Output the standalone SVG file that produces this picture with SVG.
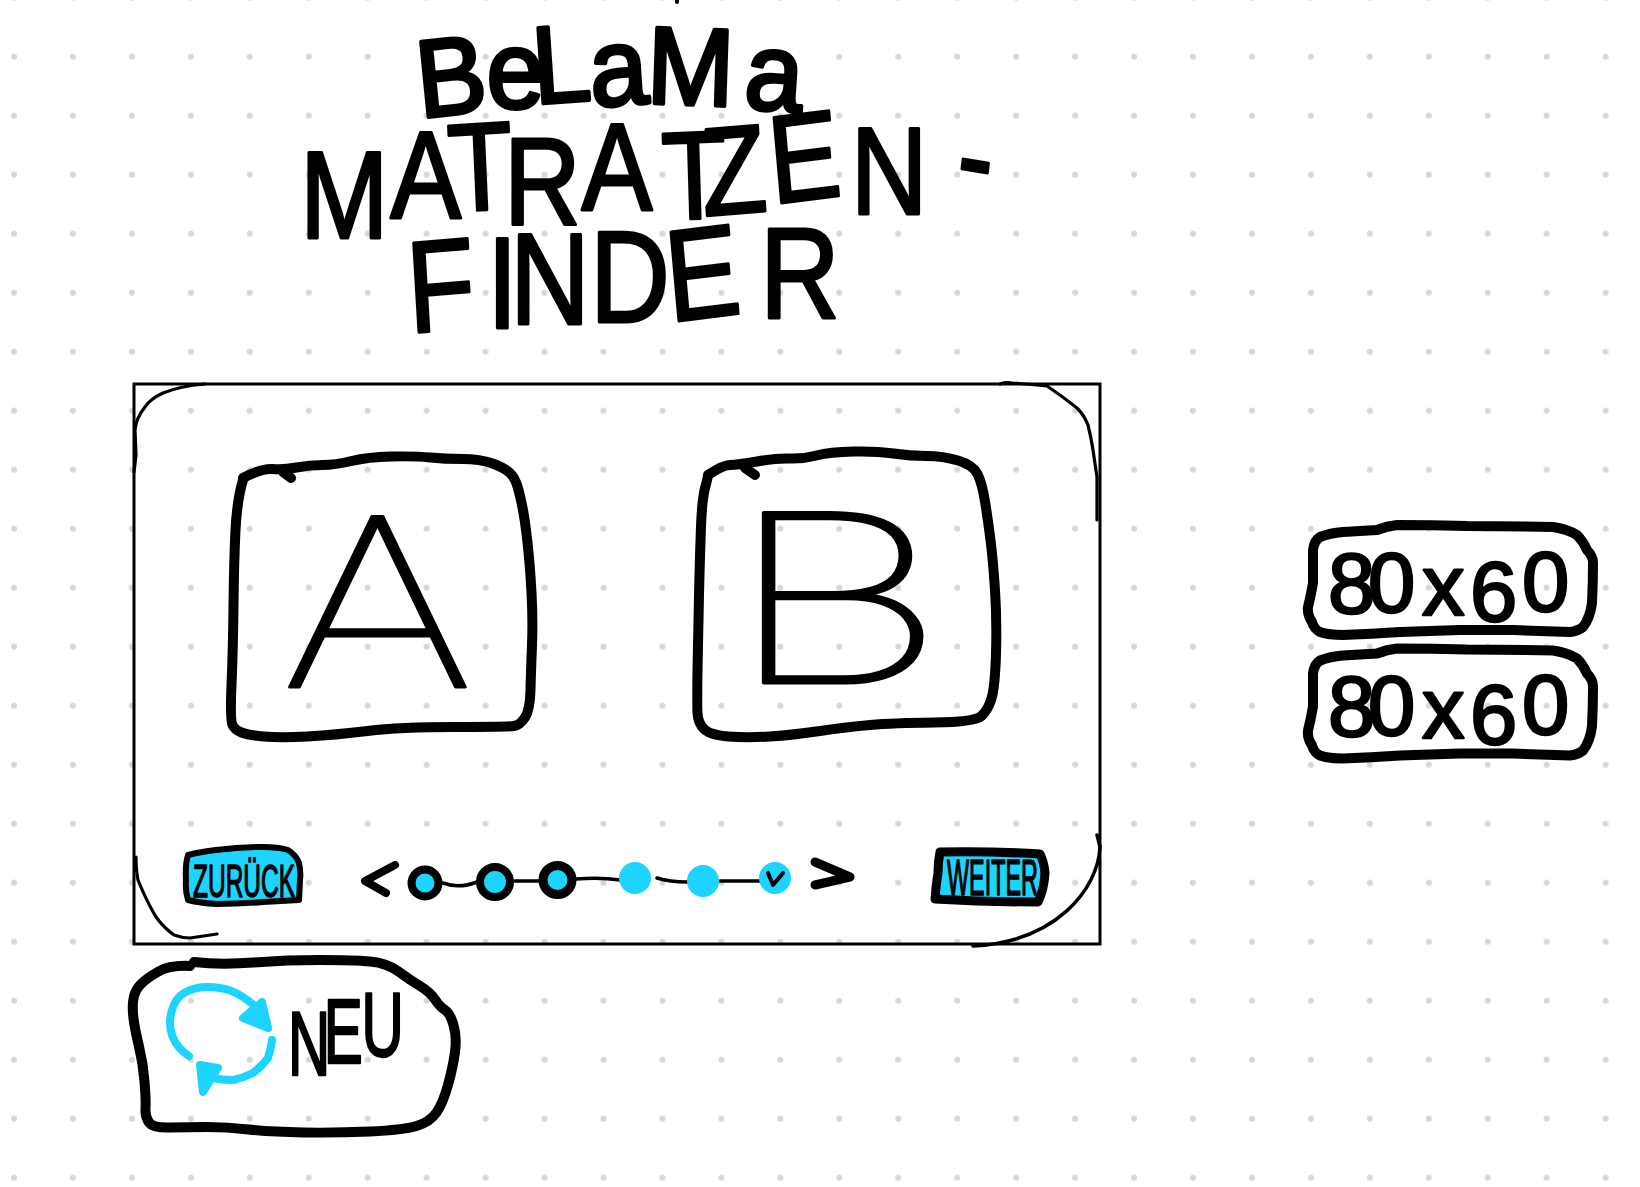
<svg xmlns="http://www.w3.org/2000/svg" xmlns:xlink="http://www.w3.org/1999/xlink" width="1640" height="1187" viewBox="0 0 1640 1187">
<style>
.ink{fill:none;stroke:#000;stroke-linecap:round;stroke-linejoin:round}
.box{stroke-width:10}
.thin{stroke-width:3.2}
.btn{fill:#1dd3ff;stroke:#000;stroke-linejoin:round}
.cy{fill:#1dd3ff}
.cyl{fill:none;stroke:#1dd3ff;stroke-width:8;stroke-linecap:round;stroke-linejoin:round}
.hand{font-family:"Liberation Sans",Arial,sans-serif;fill:#000;stroke:#000;stroke-linejoin:round}
.big{font-family:Roboto,"Liberation Sans",sans-serif;font-weight:100;fill:#000;stroke:#000;stroke-width:3;stroke-linejoin:round;font-size:240px}
</style>
<defs>
<pattern id="grid" x="14" y="-2.3" width="58.95" height="59" patternUnits="userSpaceOnUse"><circle cx="0.0" cy="0.0" r="3" fill="#d6d6d6"/><circle cx="58.95" cy="0" r="3" fill="#d6d6d6"/><circle cx="0" cy="59" r="3" fill="#d6d6d6"/><circle cx="58.95" cy="59" r="3" fill="#d6d6d6"/></pattern>
<path id="sizebox" d="M1377,530 Q1387,526 1397,525 Q1432,525 1467,526 Q1510,526 1553,527 Q1567,529 1577,535 Q1583,541 1587,550 Q1593,556 1593,563 Q1593,583 1592,603 Q1590,618 1583,627 Q1578,631 1570,632 Q1541,631 1513,630 Q1487,630 1460,630 Q1430,631 1400,632 Q1371,634 1343,635 Q1329,635 1320,632 Q1314,629 1312,622 Q1307,614 1308,607 Q1311,595 1313,583 Q1313,566 1313,550 Q1314,541 1320,537 Q1330,533 1343,532 Q1360,531 1377,530 Z"/>
</defs>
<rect width="1640" height="1187" fill="#fff"/>
<rect id="dot-grid" width="1640" height="1187" fill="url(#grid)"/>

<g id="title">
<path class="ink" d="M677,0v2" stroke-width="4"/>
<text class="hand" font-size="110" stroke-width="4" transform="scale(.95 1)" x="442 512 563 623 680 782" y="118 108 104 107 103 108" rotate="-6 0 -4 -4 2 4">BeLaMa</text>
<text class="hand" font-size="125" stroke-width="3" transform="scale(.85 1)" x="353 459 529 593 684 780 828 909 1001 1122" y="238 218 212 225 210 220 216 204 214 196" rotate="0 0 -3 0 0 -2 -4 -6 0 8">MATRATZEN-</text>
<text class="hand" font-size="130" stroke-width="3" transform="scale(.85 1)" x="482 573 600 694 788 894" y="333 328 324 322 322 318" rotate="-4 0 0 0 -6 0">FINDER</text>
</g>

<g id="frame">
<rect x="134" y="384" width="966" height="560" fill="none" stroke="#000" stroke-width="3"/>
<path class="ink thin" d="M205,384 Q180,386 163,393 Q150,399 145,407 Q136,418 135,430 L136,455 L134,472"/>
<path class="ink thin" d="M1000,384 Q1006,382 1012,383 Q1030,384 1047,386 Q1062,396 1077,408 Q1084,415 1088,425 Q1091,437 1093,450 Q1095,464 1097,477 L1097,520"/>
<path class="ink thin" d="M136,857 C136,868 137,875 138,880 Q146,900 156,917 Q164,928 174,935 Q182,938 190,938 L217,934"/>
<path class="ink" stroke-width="3.5" d="M1097,835 L1100,847 C1098,890 1055,942 973,946"/>
</g>

<g id="option-a">
<path class="ink box" d="M243,478 Q262,468 272.5,469 Q283,470 296.5,467.5 Q310,465 322.5,465 Q335,465 351.5,461 Q368,457 391.5,456.5 Q415,456 430,457.5 Q445,459 462.5,459 Q480,459 492.5,463.5 Q505,468 510,473 Q515,478 517.5,486.5 Q520,495 522.5,507.5 Q525,520 527.5,542.5 Q530,565 531.5,592.5 Q533,620 532,645 Q531,670 530.5,690 Q530,710 525,717.5 Q520,725 514,726 Q508,727 454,727 Q400,727 367.5,731 Q335,735 307.5,736.5 Q280,738 264,736.5 Q248,735 241.5,732.5 Q235,730 232.5,725 Q230,720 231.5,685 Q233,650 233.5,605 Q234,560 235.5,530 Q237,500 243,480"/>
<path class="ink box" d="M283,472 L291,478"/>
<text class="big" x="285" y="687" textLength="185" lengthAdjust="spacingAndGlyphs">A</text>
</g>

<g id="option-b">
<path class="ink box" d="M708,475 Q723,465 730,465 Q737,465 757,461.5 Q777,458 790,458.5 Q803,459 816.5,455.5 Q830,452 853.5,451.5 Q877,451 893.5,453.5 Q910,456 926.5,456 Q943,456 958,460.5 Q973,465 977.5,474 Q982,483 985,501.5 Q988,520 990.5,540 Q993,560 995,590 Q997,620 996,653.5 Q995,687 991.5,698.5 Q988,710 981.5,716 Q975,722 934,722.5 Q893,723 870,725 Q847,727 820,731 Q793,735 770,736.5 Q747,738 728.5,736.5 Q710,735 704,729 Q698,723 697.5,713 Q697,703 697.5,670 Q698,637 699,595 Q700,553 701,526.5 Q702,500 705,488 Q708,477 708,475"/>
<path class="ink box" d="M745,468 L755,475"/>
<text class="big" x="730" y="683" textLength="210" lengthAdjust="spacingAndGlyphs">B</text>
</g>

<g id="size-1">
<use xlink:href="#sizebox" href="#sizebox" class="ink box"/>
<text class="hand" font-size="85" stroke-width="2.5" x="1328 1368 1422 1470 1522" y="613 612 615 621 611">80x60</text>
</g>
<g id="size-2">
<use xlink:href="#sizebox" href="#sizebox" class="ink box" transform="translate(0 123.5)"/>
<text class="hand" font-size="85" stroke-width="2.5" x="1328 1368 1422 1470 1522" y="736 735 738 744 734">80x60</text>
</g>

<g id="connectors">
<path class="ink" stroke-width="3.5" d="M443,883 Q459,889 477,882"/>
<path class="ink" stroke-width="3.5" d="M515,881 L539,881"/>
<path class="ink" stroke-width="3.5" d="M576,879 Q600,877 620,880"/>
<path class="ink" stroke-width="3.5" d="M657,878 Q670,882 687,882"/>
<path class="ink" stroke-width="3.5" d="M720,881 L760,881"/>
</g>

<g id="back">
<path class="btn" stroke-width="6" d="M188,855 Q200,852 216,850 Q240,847 263,847 Q278,847 288,850 Q296,855 299,863 Q301,872 300,880 L299,900 Q280,901 263,902 Q240,904 216,904 Q200,903 188,900 Q185,890 186,880 Q185,865 188,855 Z"/>
<text class="hand" font-size="46" stroke-width="1.5" x="193" y="897" textLength="102" lengthAdjust="spacingAndGlyphs">ZURÜCK</text>
</g>
<g id="prev"><path class="ink" stroke-width="8" d="M395,865 L365,881 L386,893"/></g>
<g id="step-1"><circle cx="425" cy="883" r="13.5" class="cy" stroke="#000" stroke-width="8"/></g>
<g id="step-2"><circle cx="495" cy="882" r="15" class="cy" stroke="#000" stroke-width="8"/></g>
<g id="step-3"><circle cx="557.5" cy="880" r="14.5" class="cy" stroke="#000" stroke-width="9"/></g>
<g id="step-4"><circle cx="635" cy="878" r="16" class="cy"/></g>
<g id="step-5"><circle cx="703" cy="881" r="16" class="cy"/></g>
<g id="step-6"><circle cx="775" cy="878" r="16" class="cy"/><path class="ink" stroke-width="4" d="M768,873 L773,885 L783,873"/></g>
<g id="next"><path class="ink" stroke-width="9" d="M815,862 L850,877 L815,885"/></g>
<g id="forward">
<path class="btn" stroke-width="9" d="M940,852 Q990,851 1040,854 Q1044,862 1045,873 Q1044,890 1038,902 Q985,902 935,899 Q936,885 938,873 Q938,862 940,852 Z"/>
<text class="hand" font-size="50" stroke-width="1.5" x="947" y="895" textLength="91" lengthAdjust="spacingAndGlyphs">WEITER</text>
</g>

<g id="restart">
<path class="ink box" d="M190,966 Q170,965 158.5,971.5 Q147,978 141,984 Q135,990 133.5,998.5 Q132,1007 133.5,1018.5 Q135,1030 139,1046.5 Q143,1063 144.5,1081.5 Q146,1100 145.5,1108.5 Q145,1117 149,1122.5 Q153,1128 170,1127.5 Q187,1127 207,1127 Q227,1127 248.5,1129.5 Q270,1132 303.5,1132.5 Q337,1133 370,1131.5 Q403,1130 416.5,1126 Q430,1122 436.5,1112.5 Q443,1103 448,1085 Q453,1067 455,1052 Q457,1037 453.5,1025 Q450,1013 445,1010 Q440,1007 435,999.5 Q430,992 420,986 Q410,980 398.5,971.5 Q387,963 370,961.5 Q353,960 320,960 Q287,960 253.5,962.5 Q220,965 194,962"/>
<path class="cyl" d="M189,1056 Q177,1048 172.5,1036.5 Q168,1025 171.5,1011.5 Q175,998 185,992.5 Q195,987 207.5,987 Q220,987 231.5,991 Q243,995 263,1013"/>
<path class="cy" stroke="#1dd3ff" stroke-width="8" stroke-linejoin="round" d="M262,1002 L268,1028 L243,1018 Z"/>
<path class="cyl" d="M272,1040 Q271,1049 268,1058 Q262,1066 253,1073 Q243,1078 233,1080 Q222,1080 213,1078"/>
<path class="cy" stroke="#1dd3ff" stroke-width="8" stroke-linejoin="round" d="M200,1065 L218,1068 L203,1092 Z"/>
<text class="hand" font-size="90" stroke-width="2.5" transform="translate(288 0) scale(.65 1)" x="0 55 113" y="1075 1063 1056">NEU</text>
</g>
</svg>
